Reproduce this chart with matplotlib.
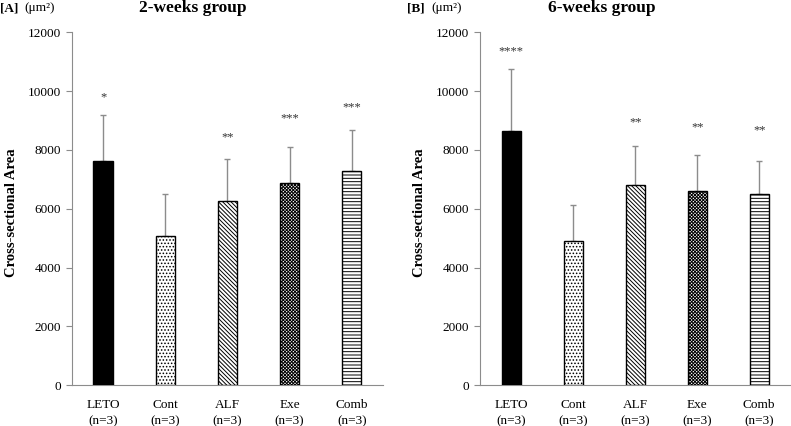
import numpy as np
import matplotlib
matplotlib.use("Agg")
import matplotlib.pyplot as plt

plt.rcParams['font.family'] = ['Liberation Serif', 'DejaVu Serif']
plt.rcParams['hatch.linewidth'] = 0.7

groups = ["LETO\n(n=3)", "Cont\n(n=3)", "ALF\n(n=3)", "Exe\n(n=3)", "Comb\n(n=3)"]

# 2-weeks group
mean_2w = [7620, 5080, 6280, 6880, 7290]
sd_2w = [1580, 1420, 1410, 1220, 1380]
stars_2w = ["*", "", "**", "***", "***"]
star_y_2w = [9780, 0, 8430, 9060, 9450]

# 6-weeks group
mean_6w = [8640, 4900, 6800, 6610, 6500]
sd_6w = [2130, 1230, 1350, 1220, 1130]
stars_6w = ["****", "", "**", "**", "**"]
star_y_6w = [11370, 0, 8940, 8770, 8660]

fills = ["black", "white", "white", "white", "white"]
hatches = [None, ".....", "\\" * 8, "x" * 10, "-----"]
gray = "#8c8c8c"

fig = plt.figure(figsize=(7.91, 4.26), dpi=100)
ax1 = fig.add_axes([0.091, 0.096, 0.393, 0.828])
ax2 = fig.add_axes([0.607, 0.096, 0.392, 0.828])


def draw(ax, means, sds, stars, star_y):
    x = np.arange(len(means))
    ax.errorbar(x, means, yerr=[np.zeros(len(sds)), sds], fmt="none",
                ecolor=gray, elinewidth=1, capsize=2.5, capthick=1, zorder=2)
    for i in range(len(means)):
        ax.bar(x[i], means[i], width=0.31, color=fills[i], edgecolor="black",
               linewidth=1, hatch=hatches[i], zorder=3)
        if stars[i]:
            ax.text(x[i], star_y[i], stars[i], ha="center", va="center",
                    fontsize=9, color="#333333")
    ax.set_xlim(-0.5, 4.5)
    ax.set_ylim(0, 12000)
    ax.set_yticks(range(0, 12001, 2000))
    ax.set_xticks(x)
    ax.set_xticklabels(groups, fontsize=9.5, linespacing=1.45)
    ax.tick_params(axis="x", length=0, pad=10)
    ax.tick_params(axis="y", length=4, color=gray, labelsize=9.5, pad=4)
    for s in ["top", "right"]:
        ax.spines[s].set_visible(False)
    ax.spines["left"].set_color(gray)
    ax.spines["bottom"].set_color(gray)
    ax.set_ylabel("Cross-sectional Area", fontsize=10.5, fontweight="bold")
    ax.yaxis.set_label_coords(-0.174, 0.49)


draw(ax1, mean_2w, sd_2w, stars_2w, star_y_2w)
draw(ax2, mean_6w, sd_6w, stars_6w, star_y_6w)

fig.text(0.0, 0.981, "[A]", fontsize=9.5, fontweight="bold", va="center")
fig.text(0.031, 0.981, "(μm²)", fontsize=9.5, va="center")
fig.text(0.244, 0.981, "2-weeks group", fontsize=12.5, fontweight="bold", va="center", ha="center")
fig.text(0.514, 0.981, "[B]", fontsize=9.5, fontweight="bold", va="center")
fig.text(0.545, 0.981, "(μm²)", fontsize=9.5, va="center")
fig.text(0.761, 0.981, "6-weeks group", fontsize=12.5, fontweight="bold", va="center", ha="center")

fig.savefig("out.png", dpi=100)
